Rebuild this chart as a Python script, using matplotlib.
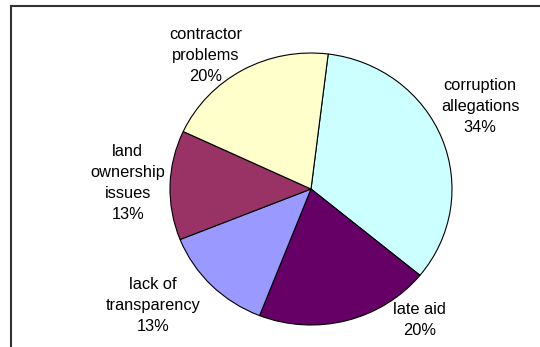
import matplotlib
matplotlib.use('Agg')
import matplotlib.pyplot as plt
from matplotlib.lines import Line2D

categories = ['corruption\nallegations', 'late aid', 'lack of\ntransparency',
              'land\nownership\nissues', 'contractor\nproblems']
shares = [34, 20, 13, 13, 20]
colors = ['#ccffff', '#660066', '#9999ff', '#993366', '#ffffcc']

# where excel put each label (pie units, centre = 0,0)
label_pos = [(1.20, 0.61), (0.77, -0.96), (-1.12, -0.855), (-1.30, 0.045), (-0.75, 0.98)]

plt.rcParams['font.family'] = ['Liberation Sans', 'DejaVu Sans']

W, H = 540, 347
fig = plt.figure(figsize=(W / 100, H / 100), dpi=100)
# pie centre at (311,189) px, radius ~141 wide x 136 tall
ax = fig.add_axes([170 / W, (H - 325) / H, 282 / W, 272 / H])

wedges, _ = ax.pie(shares, colors=colors, startangle=83, counterclock=False,
                   wedgeprops=dict(edgecolor='black', linewidth=0.8))
ax.set_aspect('auto')
ax.set_xlim(-1, 1)
ax.set_ylim(-1, 1)
ax.axis('off')

for cat, val, (x, y) in zip(categories, shares, label_pos):
    ax.text(x, y, f'{cat}\n{val}%', ha='center', va='center', fontsize=11.8,
            linespacing=1.5, color='black')

# chart area border (cropped at right and bottom)
fig.add_artist(Line2D([11 / W, 11 / W], [0, 1 - 6 / H], transform=fig.transFigure,
                      color='#333333', lw=1.5))
fig.add_artist(Line2D([11 / W, 1], [1 - 6 / H, 1 - 6 / H], transform=fig.transFigure,
                      color='#333333', lw=1.5))

fig.savefig('out.png', dpi=100)
